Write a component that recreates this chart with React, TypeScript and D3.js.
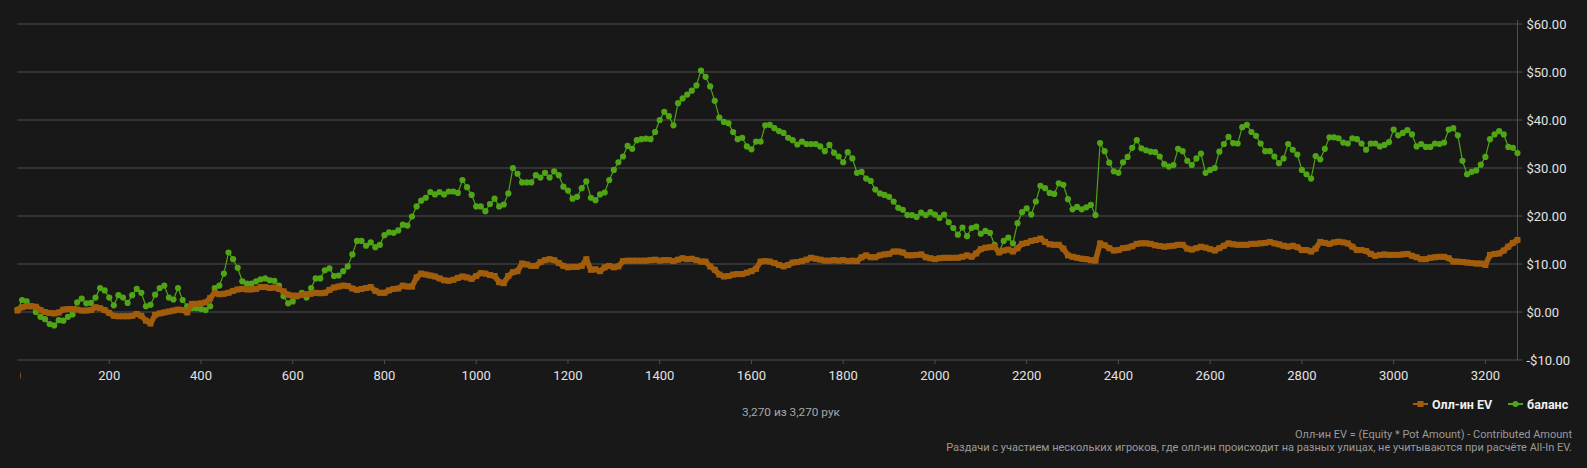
import React from 'react';
import * as d3 from 'd3';

// one sample every 10 hands
const handStep = 10;
const totalHands = 3270;

const balance = [
	0.5, 2.5, 2.2, 1.2, 0.0, -1.0, -1.5, -2.5, -2.8, -1.7,
	-1.8, -1.0, -0.5, 2.0, 2.8, 1.8, 1.9, 3.0, 5.0, 4.5,
	3.0, 1.4, 3.5, 3.0, 1.9, 3.5, 4.8, 4.0, 1.2, 1.5,
	3.6, 5.0, 5.5, 3.0, 2.6, 5.0, 2.5, 1.2, 0.8, 0.8,
	0.6, 0.4, 1.2, 5.0, 5.5, 8.0, 12.4, 11.0, 9.2, 6.4,
	5.9, 5.9, 6.4, 6.8, 7.0, 6.6, 6.5, 5.5, 3.3, 1.8,
	2.2, 3.3, 4.0, 3.0, 5.0, 7.0,
	7.0, 8.7, 9.1, 7.5, 7.6, 8.5, 9.5, 12.0, 14.8, 14.8,
	13.8, 14.5, 13.5, 14.0, 16.0, 16.6, 16.5, 17.0, 18.2, 18.0,
	19.9, 22.0, 23.2, 23.8, 25.0, 24.5, 25.0, 24.5, 25.1, 25.1,
	24.8, 27.5, 26.0, 24.4, 22.0, 22.0, 21.0, 22.5, 23.6, 22.0,
	22.4, 24.7, 30.0, 28.8, 27.0, 27.0, 27.0, 28.5, 28.0, 29.0,
	28.0, 29.3, 28.5, 26.1, 25.3, 23.6, 24.0, 25.8, 27.2, 23.8,
	23.3, 24.5, 24.9, 27.5, 29.6, 31.2, 32.4, 34.6,
	34.0, 35.8, 36.0, 36.1, 36.0, 37.5, 40.0, 41.7, 40.8, 38.9,
	43.5, 44.5, 45.3, 46.1, 47.2, 50.3, 49.0, 47.0, 44.0, 40.5,
	39.6, 39.3, 37.5, 36.0, 36.3, 34.5, 33.9, 35.5, 35.5, 38.9,
	39.0, 38.3, 37.7, 37.3, 36.3, 35.8, 34.9, 35.5, 35.0, 35.0,
	35.0, 34.5, 33.5, 34.8, 33.2, 32.4, 31.2, 33.3, 32.0, 29.0,
	29.2, 27.8, 27.3, 25.5, 24.7, 24.4, 24.0, 23.0, 21.7, 21.3,
	20.2, 20.2, 19.8, 20.7, 20.2, 20.8,
	20.3, 19.6, 20.3, 18.7, 17.5, 16.1, 17.6, 15.8, 17.5, 17.8,
	16.3, 16.9, 16.5, 14.0, 12.5, 14.8, 15.5, 14.3, 18.5, 20.8,
	21.6, 20.3, 23.0, 26.3, 25.8, 24.8, 24.6, 26.8, 26.5, 23.5,
	21.4, 21.9, 21.4, 21.8, 22.3, 20.2, 35.2, 33.5, 31.1, 29.3,
	29.0, 31.2, 32.3, 34.2, 35.8, 34.1, 33.7, 33.4, 33.3, 32.4,
	30.8, 30.3, 30.6, 34.0, 33.5, 31.5, 30.6, 32.0, 33.0, 29.0,
	29.6, 30.0, 33.4, 35.0, 36.5,
	35.2, 35.1, 38.5, 39.0, 37.5, 36.7, 35.1, 33.5, 33.5, 32.4,
	31.0, 32.0, 35.0, 33.8, 32.8, 29.6, 28.7, 27.8, 32.5, 31.8,
	34.0, 36.4, 36.4, 36.2, 35.3, 35.1, 36.2, 36.0, 35.1, 33.8,
	35.1, 35.1, 34.5, 34.8, 35.4, 38.0, 36.8, 37.3, 37.9, 37.0,
	34.5, 35.0, 34.4, 34.4, 35.1, 35.0, 35.3, 38.0, 38.3, 36.8,
	31.5, 28.7, 29.2, 29.5, 30.7, 32.3, 36.0, 37.0, 37.7, 37.0,
	34.4, 34.2, 33.1,
];

const allInEV = [
	0.3, 1.0, 1.2, 1.2, 1.1, 0.4, 0.0, -0.2, -0.3, -0.1,
	0.5, 0.6, 0.6, 0.5, 0.3, 0.3, 0.4, 1.0, 0.8, 0.4,
	-0.2, -0.8, -0.9, -0.9, -0.9, -0.8, -0.4, -0.8, -1.8, -2.4,
	-0.6, -0.3, -0.1, 0.1, 0.3, 0.5, 0.4, -0.1, 1.7, 1.7,
	1.8, 2.0, 2.9, 4.0, 3.7, 3.8, 4.0, 4.4, 4.7, 4.8,
	4.7, 4.7, 4.8, 5.2, 5.2, 5.0, 5.1, 4.8, 4.3, 3.6,
	3.4, 3.4, 3.6, 3.7, 3.8, 4.0,
	3.9, 4.0, 4.6, 5.1, 5.3, 5.5, 5.4, 4.9, 4.6, 4.8,
	5.0, 5.2, 4.4, 4.0, 4.0, 4.5, 4.8, 4.9, 5.5, 5.3,
	5.3, 7.2, 8.0, 7.8, 7.6, 7.4, 7.0, 6.6, 6.5, 6.7,
	7.1, 7.4, 7.2, 6.9, 7.5, 8.1, 8.0, 7.7, 7.5, 6.2,
	6.0, 7.5, 8.3, 8.5, 10.1, 9.9, 9.6, 9.6, 10.4, 10.8,
	11.0, 10.8, 10.2, 9.6, 9.3, 9.4, 9.4, 9.6, 11.0, 8.8,
	8.9, 8.5, 9.3, 9.6, 9.3, 9.5, 10.6, 10.7,
	10.7, 10.7, 10.7, 10.7, 10.8, 10.9, 10.7, 10.8, 10.8, 10.6,
	10.9, 11.2, 11.0, 11.1, 10.8, 10.5, 10.5, 9.5, 8.8, 7.8,
	7.4, 7.5, 7.8, 7.9, 7.9, 8.2, 8.5, 9.0, 10.5, 10.6,
	10.5, 10.2, 9.8, 9.5, 9.8, 10.3, 10.4, 10.6, 10.9, 11.3,
	11.1, 10.9, 10.7, 10.7, 10.8, 10.7, 10.8, 10.6, 10.7, 10.6,
	11.4, 11.8, 11.4, 11.4, 11.8, 12.0, 12.1, 12.6, 12.6, 12.4,
	11.8, 11.8, 11.9, 12.0, 11.4, 11.2,
	11.0, 11.2, 11.3, 11.3, 11.3, 11.3, 11.5, 11.8, 11.5, 12.2,
	13.1, 13.4, 13.5, 13.6, 12.4, 12.8, 13.0, 12.6, 13.3, 14.2,
	14.4, 14.8, 15.0, 15.3, 14.6, 14.1, 14.0, 14.0, 13.2, 11.8,
	11.5, 11.3, 11.1, 11.0, 10.8, 10.7, 14.3, 13.9, 13.3, 12.8,
	12.9, 13.3, 13.4, 13.7, 14.2, 14.3, 14.3, 14.2, 13.9, 13.75,
	13.6, 13.7, 13.8, 14.0, 14.0, 13.2, 13.0, 13.3, 13.6, 13.4,
	13.1, 12.8, 13.3, 13.8, 14.3,
	14.1, 14.0, 14.0, 14.0, 14.2, 14.2, 14.3, 14.4, 14.6, 14.3,
	14.1, 13.8, 13.6, 13.8, 13.5, 12.9, 12.9, 12.6, 13.2, 14.6,
	14.4, 14.2, 14.5, 14.65, 14.5, 14.3, 13.6, 12.9, 12.9, 12.7,
	12.1, 11.7, 11.9, 12.0, 11.9, 11.9, 11.9, 12.0, 12.1, 11.7,
	11.4, 11.0, 11.0, 11.3, 11.4, 11.5, 11.5, 11.2, 10.5, 10.5,
	10.4, 10.3, 10.2, 10.1, 10.1, 9.8, 11.9, 12.1, 12.2, 12.8,
	13.6, 14.4, 15.0,
];

const xTicks = [0, 200, 400, 600, 800, 1000, 1200, 1400, 1600, 1800, 2000, 2200, 2400, 2600, 2800, 3000, 3200];
const yTicks = [-10, 0, 10, 20, 30, 40, 50, 60];

const legendItems = ['Олл-ин EV', 'баланс'];
const handsLabel = '3,270 из 3,270 рук';
const noteLines = [
	'Олл-ин EV = (Equity * Pot Amount) - Contributed Amount',
	'Раздачи с участием нескольких игроков, где олл-ин происходит на разных улицах, не учитываются при расчёте All-In EV.',
];

const width = 1587;
const height = 468;
const plot = { left: 17.5, right: 1517.5, top: 24, bottom: 360 };
const bg = '#181818';
const green = '#4fa515';
const orange = '#a15d0b';
const font = 'Roboto, "Noto Sans", sans-serif';

const App: React.FC = () => {
	const x = d3.scaleLinear().domain([0, totalHands]).range([plot.left, plot.right]);
	const y = d3.scaleLinear().domain([-10, 60]).range([plot.bottom, plot.top]);

	const line = d3
		.line<number>()
		.x((_, i) => x(i * handStep))
		.y((d) => y(d));

	const fmt = (v: number) => (v < 0 ? '-$' : '$') + Math.abs(v).toFixed(2);

	return (
		<svg
			width={width}
			height={height}
			style={{ position: 'absolute', left: 0, top: 0, background: bg, fontFamily: font }}
		>
			<defs>
				<clipPath id="xlabels">
					<rect x={20.3} y={plot.bottom} width={width} height={40} />
				</clipPath>
			</defs>
			<rect width={width} height={height} fill={bg} />

			{/* grid + y axis */}
			{yTicks.map((t) => (
				<g key={t}>
					{t > -10 && (
						<line x1={plot.left} x2={plot.right + 5} y1={y(t)} y2={y(t)} stroke="#4e4e4e" strokeWidth={1} />
					)}
					<text x={plot.right + 9} y={y(t) + 4.5} fill="#e2e2e2" fontSize={13}>
						{fmt(t)}
					</text>
				</g>
			))}
			<line x1={plot.right} x2={plot.right} y1={plot.top - 4} y2={plot.bottom} stroke="#4e4e4e" />
			<line x1={plot.left} x2={plot.right + 5} y1={plot.bottom} y2={plot.bottom} stroke="#4e4e4e" />

			{/* x axis */}
			<g clipPath="url(#xlabels)">
				{xTicks.map((t) => (
					<g key={t}>
						<line x1={x(t)} x2={x(t)} y1={plot.bottom} y2={plot.bottom + 4} stroke="#4e4e4e" />
						<text x={x(t)} y={plot.bottom + 20} fill="#e2e2e2" fontSize={13} textAnchor="middle">
							{t}
						</text>
					</g>
				))}
			</g>

			{/* balance */}
			<path d={line(balance) as string} fill="none" stroke={green} strokeWidth={1.2} />
			{balance.map((v, i) => (
				<circle key={'b' + i} cx={x(i * handStep)} cy={y(v)} r={3.1} fill={green} />
			))}

			{/* all-in EV */}
			<path
				d={line(allInEV) as string}
				fill="none"
				stroke={orange}
				strokeWidth={5.5}
				strokeLinejoin="round"
			/>
			{allInEV.map((v, i) => (
				<rect key={'e' + i} x={x(i * handStep) - 3} y={y(v) - 3} width={6} height={6} fill={orange} />
			))}

			{/* hands count */}
			<text x={791} y={415.5} fill="#a8a8a8" fontSize={11.8} textAnchor="middle">
				{handsLabel}
			</text>

			{/* legend */}
			<g fontSize={12.5} fontWeight="bold" fill="#f0f0f0">
				<line x1={1413} x2={1428} y1={404} y2={404} stroke={orange} strokeWidth={2} />
				<rect x={1417.5} y={401} width={6} height={6} fill={orange} />
				<text x={1432} y={408.5}>{legendItems[0]}</text>
				<line x1={1508} x2={1523} y1={404} y2={404} stroke={green} strokeWidth={2} />
				<circle cx={1515.5} cy={404} r={3} fill={green} />
				<text x={1527} y={408.5}>{legendItems[1]}</text>
			</g>

			{/* notes */}
			{noteLines.map((s, i) => (
				<text key={i} x={1572} y={437.5 + i * 13} fill="#9a9a9a" fontSize={11} textAnchor="end">
					{s}
				</text>
			))}
		</svg>
	);
};

export default App;
